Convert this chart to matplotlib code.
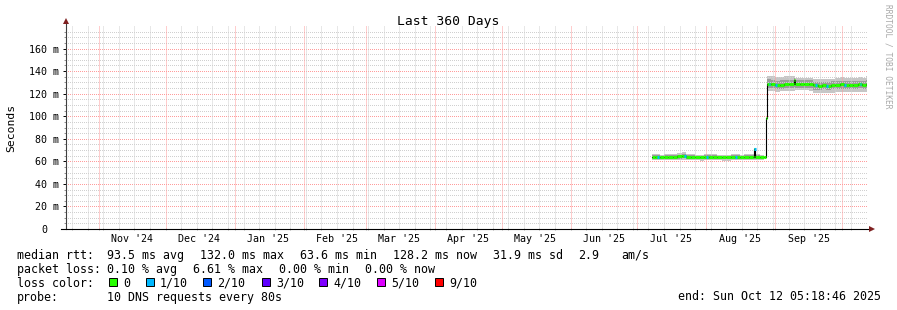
import numpy as np
import matplotlib
matplotlib.use("Agg")
import matplotlib.pyplot as plt
import matplotlib.dates as mdates
from matplotlib.ticker import FixedLocator, NullFormatter

# ---------------- data ----------------
title = "Last 360 Days"
start_time = "2024-10-17 05:18:46"
end_time = "2025-10-12 05:18:46"

month_starts = ["2024-11-01", "2024-12-01", "2025-01-01", "2025-02-01", "2025-03-01",
                "2025-04-01", "2025-05-01", "2025-06-01", "2025-07-01", "2025-08-01",
                "2025-09-01", "2025-10-01"]
month_labels = ["Nov '24", "Dec '24", "Jan '25", "Feb '25", "Mar '25", "Apr '25",
                "May '25", "Jun '25", "Jul '25", "Aug '25", "Sep '25"]
first_week_grid = "2024-10-20"   # weekly minor grid on Sundays

y_ticks_ms = [0, 20, 40, 60, 80, 100, 120, 140, 160]
y_tick_labels = ["0", "20 m", "40 m", "60 m", "80 m", "100 m", "120 m", "140 m", "160 m"]

# median rtt (ms) and smoke bands (ms), step values starting at each date
dates = ["2025-07-07 12:00", "2025-07-09", "2025-07-11", "2025-07-13", "2025-07-15",
         "2025-07-17", "2025-07-19", "2025-07-21", "2025-07-23", "2025-07-25",
         "2025-07-27", "2025-07-29", "2025-07-31", "2025-08-02", "2025-08-04",
         "2025-08-06", "2025-08-08", "2025-08-10", "2025-08-12", "2025-08-14",
         "2025-08-16", "2025-08-18", "2025-08-20", "2025-08-22", "2025-08-22 12:00",
         "2025-08-23", "2025-08-25", "2025-08-27",
         "2025-08-28 00:00", "2025-08-28 05:00",
         "2025-08-30", "2025-09-01", "2025-09-03", "2025-09-05", "2025-09-07",
         "2025-09-09 12:00", "2025-09-10", "2025-09-12", "2025-09-14", "2025-09-16",
         "2025-09-18", "2025-09-20", "2025-09-22", "2025-09-24", "2025-09-26",
         "2025-09-28", "2025-09-30", "2025-10-02", "2025-10-04", "2025-10-06",
         "2025-10-08", "2025-10-10", "2025-10-11 18:00"]
median_ms = [63.9, 64.0, 63.7, 63.8, 63.9, 64.1, 64.3, 64.8, 63.9, 63.8,
             63.8, 63.6, 63.8, 64.0, 63.9, 63.7, 63.6, 63.7, 63.9, 63.8,
             63.7, 63.8, 63.9, 64.0, 70.8, 63.8, 63.7, 63.9,
             98.0, 129.0,
             128.6, 127.3, 128.0, 128.4, 128.6,
             132.0, 128.9, 129.0, 128.8, 128.9,
             127.3, 127.1, 127.4, 127.2, 127.5,
             128.0, 128.2, 127.9, 128.1, 128.0,
             128.3, 128.1, 128.2]
smoke_lo = [61.0, 61.2, 60.9, 61.0, 61.1, 61.3, 61.4, 61.6, 61.0, 60.9,
            60.8, 60.7, 60.9, 61.1, 61.0, 60.8, 60.6, 60.7, 60.9, 60.9,
            60.8, 60.9, 61.0, 61.0, 61.0, 60.9, 60.8, 61.0,
            None, 122.8,
            122.5, 121.6, 122.0, 122.3, 122.6,
            122.8, 122.9, 123.0, 122.9, 122.8,
            120.8, 120.6, 120.9, 120.7, 121.0,
            121.5, 121.6, 121.4, 121.5, 121.4,
            121.6, 121.5, 121.6]
smoke_lo_in = [62.0, 62.2, 62.0, 62.1, 62.2, 62.4, 62.5, 62.7, 62.1, 62.0,
               61.9, 61.8, 62.0, 62.2, 62.1, 61.9, 61.7, 61.8, 62.0, 62.0,
               61.9, 62.0, 62.1, 62.2, 62.5, 62.0, 61.9, 62.1,
               None, 125.0,
               124.8, 123.8, 124.3, 124.6, 124.8,
               125.5, 125.2, 125.3, 125.1, 125.2,
               123.6, 123.4, 123.7, 123.5, 123.8,
               124.3, 124.5, 124.2, 124.4, 124.3,
               124.6, 124.4, 124.5]
smoke_hi_in = [65.3, 65.4, 65.1, 65.2, 65.3, 65.6, 65.9, 66.4, 65.4, 65.2,
               65.1, 65.0, 65.2, 65.4, 65.3, 65.1, 64.9, 65.0, 65.2, 65.2,
               65.1, 65.2, 65.4, 65.4, 68.0, 65.2, 65.1, 65.3,
               None, 132.6,
               132.4, 131.0, 131.8, 132.0, 132.3,
               133.5, 131.8, 131.9, 131.7, 131.8,
               130.6, 130.4, 130.7, 130.5, 130.8,
               131.3, 131.5, 131.2, 131.4, 131.3,
               131.6, 131.4, 131.8]
smoke_hi = [66.2, 66.4, 66.0, 66.1, 66.3, 66.8, 67.2, 68.3, 66.5, 66.2,
            66.0, 65.9, 66.1, 66.4, 66.3, 66.0, 65.8, 65.9, 66.2, 66.1,
            66.0, 66.2, 66.4, 66.4, 71.5, 66.2, 66.0, 66.3,
            None, 135.8,
            135.6, 134.6, 135.2, 135.4, 135.6,
            136.0, 133.8, 133.6, 133.5, 133.6,
            133.2, 133.0, 133.3, 133.1, 133.4,
            134.2, 134.4, 134.1, 134.3, 134.2,
            134.5, 134.3, 136.0]

loss_dates = ["2025-07-10", "2025-07-22", "2025-08-01", "2025-08-14", "2025-08-22 12:00",
              "2025-08-29", "2025-09-01", "2025-09-19", "2025-09-24", "2025-10-02",
              "2025-10-09"]
loss_level = ["1/10"] * len(loss_dates)

loss_legend_labels = ["0", "1/10", "2/10", "3/10", "4/10", "5/10", "9/10"]
loss_legend_colors = ["#26ff00", "#00b8ff", "#0059ff", "#5e00ff", "#7e00ff", "#dd00ff", "#ff0000"]

stats_rtt = ["93.5 ms avg", "132.0 ms max", "63.6 ms min", "128.2 ms now", "31.9 ms sd", "2.9", "am/s"]
stats_loss = ["0.10 % avg", "6.61 % max", "0.00 % min", "0.00 % now"]
probe_text = "10 DNS requests every 80s"
end_text = "end: Sun Oct 12 05:18:46 2025"

# ---------------- layout ----------------
W, H = 897, 310
DPI = 100
MONO = "DejaVu Sans Mono"
plt.rcParams["font.family"] = MONO

fig = plt.figure(figsize=(W / DPI, H / DPI), dpi=DPI, facecolor="white")
ax_l, ax_r, ax_t, ax_b = 66.0, 867.0, 26.0, 229.0
ax = fig.add_axes([ax_l / W, 1 - ax_b / H, (ax_r - ax_l) / W, (ax_b - ax_t) / H])
ax.set_facecolor("white")
for s in ax.spines.values():
    s.set_visible(False)

def fx(px):
    return px / W

def fy(py):
    return 1 - py / H

def to_num(s):
    return mdates.date2num(np.datetime64(s.replace(" ", "T")))

t0, t1 = to_num(start_time), to_num(end_time)
ax.set_xlim(t0, t1)
ax.set_ylim(0, 180)

# ---------------- grid ----------------
grid_minor = "#d0d0d0"
grid_major = "#ff9c9c"
hdots = (0.5, (1.0, 1.0))
vdots = (0.0, (1.0, 1.0))
hkw = dict(lw=0.72, ls=hdots, zorder=5, snap=True)
vkw = dict(lw=0.72, ls=vdots, zorder=5, snap=True)
for v in np.arange(5, 180, 5):
    if v % 20 != 0:
        ax.axhline(v, color=grid_minor, **hkw)
for v in y_ticks_ms[1:]:
    ax.axhline(v, color=grid_major, **hkw)
month_nums = [to_num(m) for m in month_starts]
week_days = np.arange(np.datetime64(first_week_grid), np.datetime64(end_time[:10]),
                      np.timedelta64(7, "D"))
week_nums = [mdates.date2num(w) for w in week_days]
week_nums = [w for w in week_nums if t0 < w < t1 and min(abs(w - m) for m in month_nums) > 0.5]
for w in week_nums:
    ax.axvline(w, color=grid_minor, **vkw)
for m in month_nums:
    ax.axvline(m, color=grid_major, **vkw)

# ---------------- data ----------------
x = np.array([to_num(d) for d in dates] + [t1 - 0.05])
def ext(v):
    a = np.array([np.nan if q is None else q for q in v], dtype=float)
    return np.append(a, a[-1])
med = ext(median_ms)
lo, loin, hiin, hi = ext(smoke_lo), ext(smoke_lo_in), ext(smoke_hi_in), ext(smoke_hi)

ax.fill_between(x, lo, hi, step="post", color="#c6c6c6", lw=0, zorder=2)
ax.fill_between(x, loin, hiin, step="post", color="#9c9c9c", lw=0, zorder=3)
ax.step(x, med, where="post", color="black", lw=0.8, zorder=6)
ax.hlines(med[:-1], x[:-1], x[1:], colors=loss_legend_colors[0], lw=2.2, zorder=7)
for d, lvl in zip(loss_dates, loss_level):
    xd = to_num(d)
    i = np.searchsorted(x, xd, side="right") - 1
    ax.hlines(med[i], xd, xd + 0.7, colors=loss_legend_colors[loss_legend_labels.index(lvl)],
              lw=2.2, zorder=8)

# ---------------- axes / ticks ----------------
mid_month = [m + 15 for m in month_nums[:-1]]
ax.xaxis.set_major_locator(FixedLocator(mid_month))
ax.set_xticklabels(month_labels)
ax.xaxis.set_minor_locator(FixedLocator(month_nums + week_nums))
ax.xaxis.set_minor_formatter(NullFormatter())
ax.tick_params(axis="x", which="major", length=0, pad=3.6, labelsize=7.2, colors="black")
ax.tick_params(axis="x", which="minor", length=1.5, width=0.7, direction="inout", color="#b0b0b0")

ax.yaxis.set_major_locator(FixedLocator(y_ticks_ms))
ax.set_yticklabels(y_tick_labels)
ax.yaxis.set_minor_locator(FixedLocator(list(np.arange(5, 180, 5))))
ax.tick_params(axis="y", which="major", length=2, width=0.7, direction="out", pad=2.8,
               labelsize=7.2, colors="black")
ax.tick_params(axis="y", which="minor", length=1.2, width=0.7, direction="out", color="#909090")
ax.yaxis.get_major_ticks()[0].set_pad(11.4)

# axis lines and arrows
ax.plot([0, 0], [0, 1 + 4.5 / (ax_b - ax_t)], transform=ax.transAxes, color="#404040",
        lw=0.8, clip_on=False, zorder=10)
ax.plot([-5 / (ax_r - ax_l), 1 + 4.5 / (ax_r - ax_l)], [0, 0], transform=ax.transAxes,
        color="black", lw=0.8, clip_on=False, zorder=10)
ax.plot([0], [1 + 5.5 / (ax_b - ax_t)], marker="^", ms=4.2, color="#7f2020", mew=0,
        transform=ax.transAxes, clip_on=False, zorder=11)
ax.plot([1 + 5.0 / (ax_r - ax_l)], [0], marker=">", ms=4.2, color="#7f2020", mew=0,
        transform=ax.transAxes, clip_on=False, zorder=11)

# ---------------- texts ----------------
fig.text(fx(448), fy(25), title, ha="center", va="baseline", fontsize=9.4)
fig.text(fx(11.5), fy(127.5), "Seconds", rotation=90, ha="center", va="center", fontsize=8.2)
fig.text(fx(887.5), fy(4.5), "RRDTOOL / TOBI OETIKER", rotation=-90, ha="center", va="top",
         fontsize=5.7, color="#a8a8a8")

LF = 8.35
rows = [258.7, 272.7, 286.7, 300.5]
fig.text(fx(16.7), fy(rows[0]), "median rtt:", fontsize=LF, va="baseline")
for s, px in zip(stats_rtt, [107.3, 200, 300, 393.3, 493.3, 578.3, 621]):
    fig.text(fx(px), fy(rows[0]), s, fontsize=LF, va="baseline")
fig.text(fx(16.7), fy(rows[1]), "packet loss:", fontsize=LF, va="baseline")
for s, px in zip(stats_loss, [107.3, 192.7, 279.3, 365.3]):
    fig.text(fx(px), fy(rows[1]), s, fontsize=LF, va="baseline")
fig.text(fx(16.7), fy(rows[2]), "loss color:", fontsize=LF, va="baseline")
box_x = [108.7, 145.7, 203.3, 261.7, 319.3, 377.0, 435.3]
for bx, lab, col in zip(box_x, loss_legend_labels, loss_legend_colors):
    fig.patches.append(plt.Rectangle((fx(bx), fy(286.3)), 8 / W, 8 / H, transform=fig.transFigure,
                                     facecolor=col, edgecolor="black", lw=0.7))
    fig.text(fx(bx + 14.3), fy(rows[2]), lab, fontsize=LF, va="baseline")
fig.text(fx(16.7), fy(rows[3]), "probe:", fontsize=LF, va="baseline")
fig.text(fx(107.3), fy(rows[3]), probe_text, fontsize=LF, va="baseline")
fig.text(fx(880.5), fy(rows[3]), end_text, fontsize=LF, va="baseline", ha="right")

fig.savefig("out.png", dpi=DPI, facecolor="white")
